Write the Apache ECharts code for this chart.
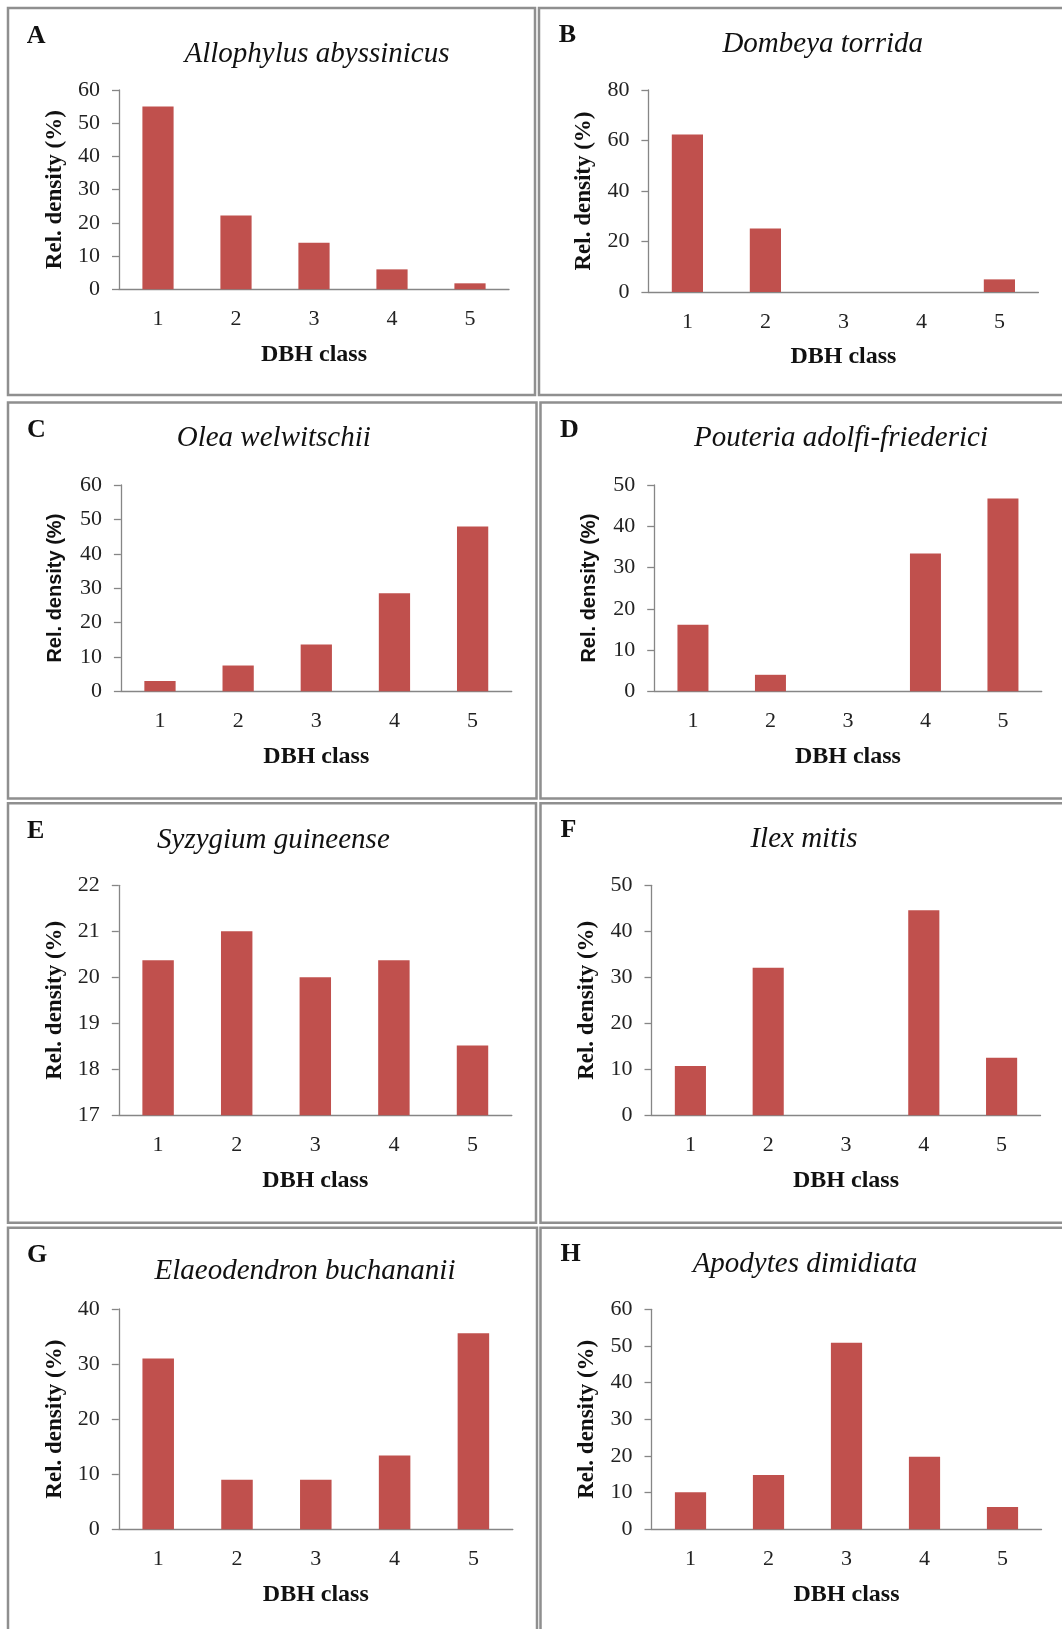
<!DOCTYPE html>
<html>
<head>
<meta charset="utf-8">
<title>Rel. density by DBH class</title>
<script src="https://cdn.jsdelivr.net/npm/echarts@6/dist/echarts.min.js"></script>
<style>
  html, body { margin: 0; padding: 0; background: #fff; }
  #main { width: 1062px; height: 1629px; }
</style>
</head>
<body>
<div id="main"></div>
<script>
// data
var classes = ['1', '2', '3', '4', '5'];
var letters = ['A', 'B', 'C', 'D', 'E', 'F', 'G', 'H'];
var species = ['Allophylus abyssinicus', 'Dombeya torrida', 'Olea welwitschii', 'Pouteria adolfi-friederici',
  'Syzygium guineense', 'Ilex mitis', 'Elaeodendron buchananii', 'Apodytes dimidiata'];

var allophylus = [55.0, 22.2, 14.0, 6.0, 1.8];
var dombeya = [62.4, 25.1, 0, 0, 5.0];
var olea = [3.0, 7.5, 13.6, 28.5, 47.9];
var pouteria = [16.1, 4.0, 0, 33.4, 46.7];
var syzygium = [20.37, 21.0, 20.0, 20.37, 18.52];
var ilex = [10.7, 32.1, 0, 44.6, 12.5];
var elaeodendron = [31.0, 9.0, 9.0, 13.4, 35.6];
var apodytes = [10.1, 14.8, 50.9, 19.8, 6.1];

// y axis ticks per panel
var yMin = [0, 0, 0, 0, 17, 0, 0, 0];
var yMax = [60, 80, 60, 50, 22, 50, 40, 60];
var yStep = [10, 20, 10, 10, 1, 10, 10, 10];

var seriesData = [allophylus, dombeya, olea, pouteria, syzygium, ilex, elaeodendron, apodytes];

// layout of each panel (plot area, title, letter, frame)
var panels = [
  { grid: [119, 90, 390, 199.3], title: [317, 54], letter: [26.7, 36], box: [8, 8, 527, 387] },
  { grid: [648.4, 90, 390, 202], title: [822.7, 44], letter: [558.8, 35], box: [539, 8, 525, 387] },
  { grid: [120.9, 485, 390.8, 206.3], title: [273.8, 438.8], letter: [27, 430], box: [8, 402.5, 528.5, 396] },
  { grid: [654.2, 485, 387.5, 206.3], title: [841, 438.8], letter: [560, 430], box: [540.5, 402.5, 523, 396] },
  { grid: [118.8, 885.3, 393, 230], title: [273.4, 840.5], letter: [27, 831.7], box: [8, 803.3, 528, 419.4] },
  { grid: [651.5, 885.3, 389, 230], title: [804, 839], letter: [560.5, 830], box: [540.5, 803.3, 523, 419.4] },
  { grid: [118.8, 1309, 394, 220.3], title: [305, 1271.7], letter: [27, 1255], box: [8, 1227.7, 529, 420] },
  { grid: [651.5, 1309.3, 390, 220], title: [805, 1264], letter: [560.5, 1254], box: [540.5, 1227.7, 523, 420] }
];

var serif = '"Liberation Serif", "Times New Roman", serif';
var sans = '"Liberation Sans", Arial, sans-serif';
var axisGray = '#868686';
var barColor = '#C0504D';

var chart = echarts.init(document.getElementById('main'), null, { renderer: 'canvas' });

var grids = [], xAxes = [], yAxes = [], series = [], graphics = [];

panels.forEach(function (p, i) {
  var sansName = (i === 2 || i === 3); // C and D use a sans axis title
  grids.push({ left: p.grid[0], top: p.grid[1], width: p.grid[2], height: p.grid[3], containLabel: false });

  xAxes.push({
    gridIndex: i,
    type: 'category',
    data: classes,
    name: 'DBH class',
    nameLocation: 'middle',
    nameGap: 53,
    nameTextStyle: { fontFamily: serif, fontWeight: 'bold', fontSize: 24, color: '#111' },
    axisLine: { lineStyle: { color: axisGray, width: 1.3 } },
    axisTick: { show: false },
    axisLabel: { fontFamily: serif, fontSize: 22, color: '#222', margin: 19 }
  });

  yAxes.push({
    gridIndex: i,
    type: 'value',
    min: yMin[i],
    max: yMax[i],
    interval: yStep[i],
    startValue: yMin[i],
    name: 'Rel. density (%)',
    nameLocation: 'middle',
    nameRotate: 90,
    nameGap: sansName ? 55 : 52.5,
    nameTextStyle: {
      fontFamily: sansName ? sans : serif,
      fontWeight: 'bold',
      fontSize: sansName ? 20 : 23,
      color: '#111'
    },
    axisLine: { show: true, lineStyle: { color: axisGray, width: 1.3 } },
    axisTick: { show: true, inside: false, length: 7, lineStyle: { color: axisGray, width: 1.3 } },
    splitLine: { show: false },
    axisLabel: { fontFamily: serif, fontSize: 22, color: '#222', margin: 19 }
  });

  series.push({
    type: 'bar',
    xAxisIndex: i,
    yAxisIndex: i,
    data: seriesData[i],
    barCategoryGap: '60%',
    itemStyle: { color: barColor },
    silent: true
  });

  // panel frame
  graphics.push({
    type: 'rect',
    shape: { x: p.box[0], y: p.box[1], width: p.box[2], height: p.box[3] },
    style: { fill: null, stroke: '#8f8f8f', lineWidth: 2.5 },
    silent: true
  });
  // species title (italic)
  graphics.push({
    type: 'text',
    x: p.title[0],
    y: p.title[1],
    style: {
      text: species[i],
      font: 'italic 29px ' + serif,
      fill: '#111',
      align: 'center', verticalAlign: 'middle',
      textAlign: 'center', textVerticalAlign: 'middle'
    }
  });
  // panel letter
  graphics.push({
    type: 'text',
    x: p.letter[0],
    y: p.letter[1],
    style: {
      text: letters[i],
      font: 'bold 26px ' + serif,
      fill: '#111',
      align: 'left', verticalAlign: 'middle',
      textAlign: 'left', textVerticalAlign: 'middle'
    }
  });
});

var option = {
  backgroundColor: '#fff',
  animation: false,
  grid: grids,
  xAxis: xAxes,
  yAxis: yAxes,
  series: series,
  graphic: graphics
};

chart.setOption(option);
</script>
</body>
</html>
